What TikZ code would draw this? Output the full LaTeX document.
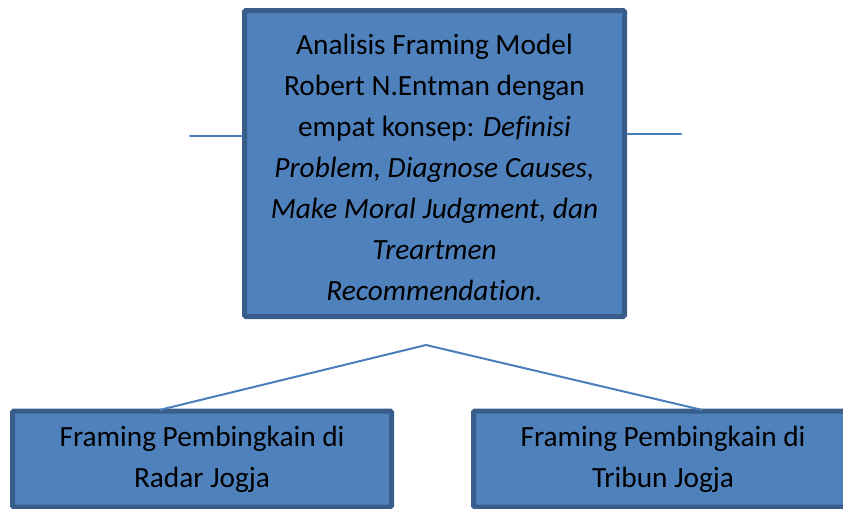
\documentclass[tikz,border=0pt]{standalone}
\usepackage{fontspec}
\setmainfont{Carlito}[Ligatures = NoCommon]
\usetikzlibrary{positioning}

\begin{document}
\begin{tikzpicture}
[x = 0.75pt, y = -0.75pt, line cap = round,
box/.style = {draw = boxborder, fill = boxfill, line width = 3.75pt, rounded corners = 1pt,
  align = center, font = \fontsize{22}{30.75}\selectfont, inner sep = 0pt},
link/.style = {draw = linkcolor, line width = 1.5pt}]

\definecolor{boxfill}{HTML}{4F81BD}
\definecolor{boxborder}{HTML}{385D8A}
\definecolor{linkcolor}{HTML}{4A7EBB}

\useasboundingbox (0, 0) rectangle (843, 508);
\clip (0, 0) rectangle (843, 508);

% model box
\node[box, minimum width = 285pt, minimum height = 229.5pt] (model) at (434.5, 163.5)
{\rule{0pt}{21pt}Analisis Framing Model\\ Robert N.Entman dengan\\ empat konsep: \textit{Definisi}\\
\textit{Problem, Diagnose Causes,}\\ \textit{Make Moral Judgment, dan}\\ \textit{Treartmen}\\
\textit{Recommendation.}};

% the two papers
\node[box, minimum width = 284.25pt, minimum height = 72pt] (radar) at (202, 459)
{Framing Pembingkain di\\ Radar Jogja};
\node[box, minimum width = 284.25pt, minimum height = 72pt] (tribun) at (663, 459)
{Framing Pembingkain di\\ Tribun Jogja};

\coordinate (left end) at (190, 135.5);
\coordinate (right end) at (681, 134);
\coordinate (peak) at (426, 345);

\draw[link] (left end) -- (model.west |- left end);
\draw[link] (model.east |- right end) -- (right end);
\draw[link] ([xshift = -31.5pt, yshift = -1pt] radar.north) -- (peak) -- ([xshift = 29pt, yshift = -1pt] tribun.north);
\end{tikzpicture}
\end{document}
